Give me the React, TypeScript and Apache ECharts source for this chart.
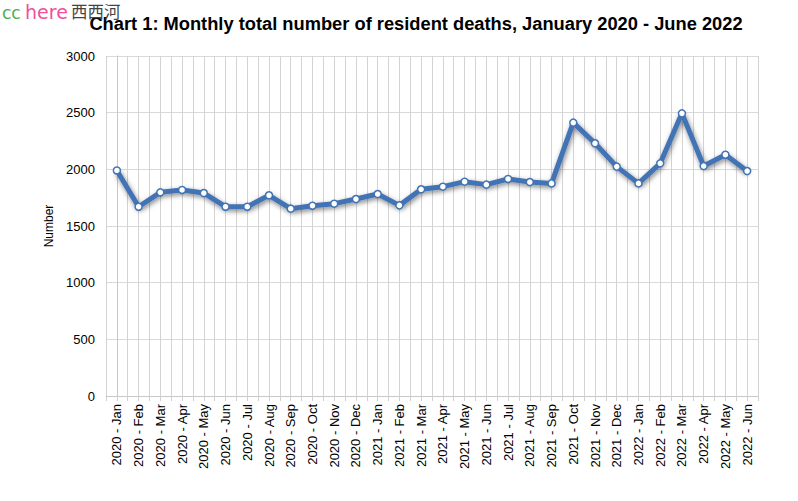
import React, { useEffect, useRef } from "react";
import * as echarts from "echarts";

const categories = [
  "2020 - Jan", "2020 - Feb", "2020 - Mar", "2020 - Apr", "2020 - May", "2020 - Jun",
  "2020 - Jul", "2020 - Aug", "2020 - Sep", "2020 - Oct", "2020 - Nov", "2020 - Dec",
  "2021 - Jan", "2021 - Feb", "2021 - Mar", "2021 - Apr", "2021 - May", "2021 - Jun",
  "2021 - Jul", "2021 - Aug", "2021 - Sep", "2021 - Oct", "2021 - Nov", "2021 - Dec",
  "2022 - Jan", "2022 - Feb", "2022 - Mar", "2022 - Apr", "2022 - May", "2022 - Jun",
];

const deaths = [
  1990, 1670, 1797, 1818, 1791, 1670, 1670, 1771, 1653, 1679, 1697, 1738,
  1782, 1682, 1824, 1847, 1891, 1865, 1915, 1888, 1876, 2412, 2230, 2024,
  1876, 2053, 2494, 2029, 2129, 1985,
];

const title = "Chart 1: Monthly total number of resident deaths, January 2020 - June 2022";
const yName = "Number";

export default function App() {
  const ref = useRef<HTMLDivElement>(null);
  useEffect(() => {
    const chart = echarts.init(ref.current!, null, { renderer: "svg" });
    const font = "Arial, 'Liberation Sans', sans-serif";
    chart.setOption({
      animation: false,
      backgroundColor: "#ffffff",
      title: {
        text: title,
        left: 411,
        top: 9,
        textAlign: "center",
        textStyle: { fontFamily: font, fontSize: 18.3, fontWeight: "bold", color: "#000" },
      },
      graphic: [
        {
          type: "text",
          left: 2,
          top: 4,
          z: 100,
          style: {
            text: "cc",
            fontSize: 17,
            fontFamily: "'DejaVu Sans', sans-serif",
            fill: "#4caf50",
          },
        },
        {
          type: "text",
          left: 25,
          top: 2,
          z: 100,
          style: {
            text: "here",
            fontSize: 19,
            fontFamily: "'DejaVu Sans', sans-serif",
            fill: "#f0509a",
          },
        },
        {
          type: "text",
          left: 71,
          top: 3,
          z: 100,
          style: {
            text: "西西河",
            fontSize: 16.5,
            fontFamily: "'Noto Sans CJK SC', sans-serif",
            fill: "#444",
          },
        },
      ],
      grid: { left: 106, right: 40, top: 56, bottom: 105 },
      xAxis: [
        {
          type: "category",
          data: categories,
          boundaryGap: true,
          axisLine: { show: true, lineStyle: { color: "#c8c8c8" } },
          axisTick: { show: false },
          splitLine: { show: false },
          axisLabel: {
            rotate: 90,
            interval: 0,
            fontFamily: font,
            fontSize: 13,
            color: "#000",
            margin: 8,
          },
        },
        {
          type: "value",
          min: -0.5,
          max: 29.5,
          interval: 0.5,
          show: true,
          position: "bottom",
          axisLine: { show: false },
          axisTick: { show: true, length: 5, inside: false, lineStyle: { color: "#d0d0d0" } },
          axisLabel: { show: false },
          splitLine: { show: true, lineStyle: { color: "#d3d3d3", width: 1 } },
        },
      ],
      yAxis: {
        type: "value",
        min: 0,
        max: 3000,
        interval: 500,
        name: yName,
        nameLocation: "middle",
        nameGap: 46,
        nameTextStyle: { fontFamily: font, fontSize: 12, color: "#000" },
        axisLine: { show: true, lineStyle: { color: "#c8c8c8" } },
        axisTick: { show: false },
        axisLabel: {
          fontFamily: font,
          fontSize: 13,
          color: "#000",
          margin: 11,
          formatter: (v: number) => String(v),
        },
        splitLine: { lineStyle: { color: "#d9d9d9", width: 1 } },
      },
      series: [
        {
          type: "line",
          data: deaths,
          xAxisIndex: 0,
          symbol: "circle",
          symbolSize: 7,
          lineStyle: {
            color: "#4273b5",
            width: 5,
            shadowColor: "rgba(0,0,0,0.5)",
            shadowBlur: 5,
            shadowOffsetX: 1,
            shadowOffsetY: 2,
          },
          itemStyle: { color: "#ffffff", borderColor: "#4273b5", borderWidth: 1.5 },
          z: 5,
        },
      ],
    });
    return () => chart.dispose();
  }, []);
  return (
    <div
      ref={ref}
      style={{ position: "absolute", left: 0, top: 0, width: 798, height: 501 }}
    />
  );
}
